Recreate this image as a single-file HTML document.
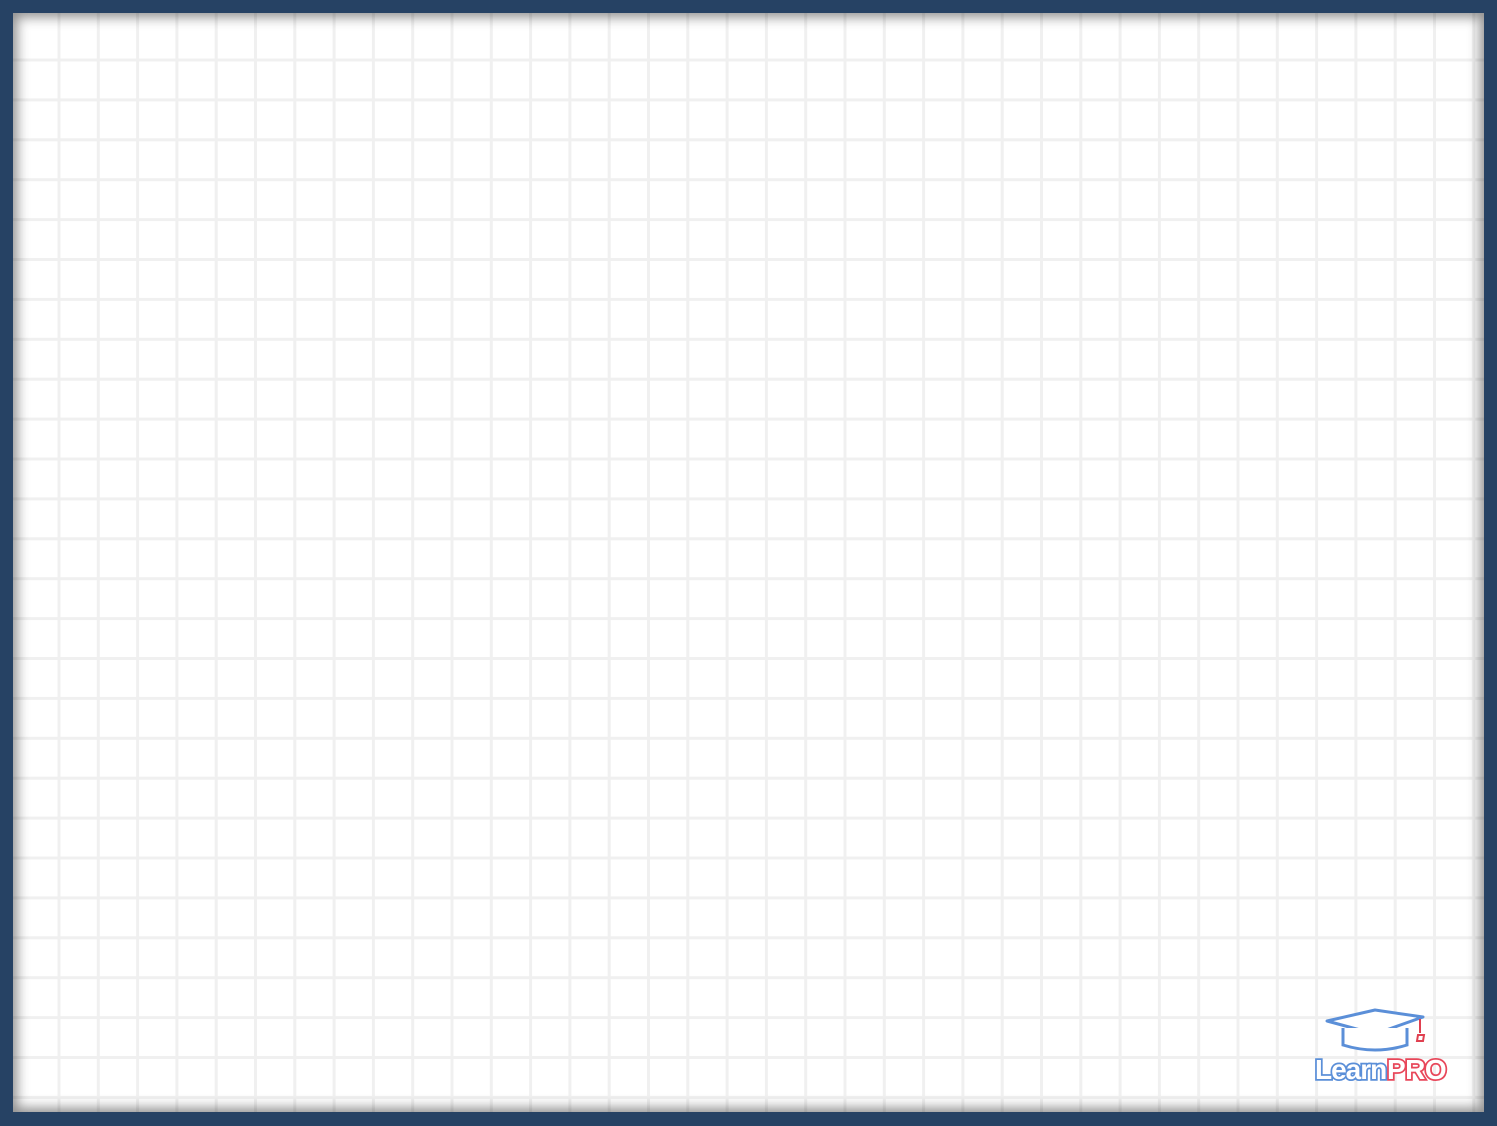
<!DOCTYPE html>
<html><head><meta charset="utf-8"><style>
html,body{margin:0;padding:0;}
body{width:1497px;height:1126px;background:#264264;position:relative;overflow:hidden;font-family:"Liberation Sans",sans-serif;}
#board{position:absolute;left:13px;top:13px;width:1471px;height:1099px;background-color:#fff;}
#grid{position:absolute;left:0;top:0;}
#shadow{position:absolute;left:13px;top:13px;width:1471px;height:1099px;box-shadow:inset 0 0 12px 4px rgba(0,0,0,0.45);pointer-events:none;}
</style></head><body>
<div id="board">
<svg id="grid" width="1471" height="1099"></svg>
</div>
<div id="shadow"></div>
<svg style="position:absolute;left:1310px;top:1005px" width="150" height="80">
 <path d="M17 16 L65 5 L113 12 L65 29 Z" fill="#fff" stroke="#5b8fd8" stroke-width="3" stroke-linejoin="round"/>
 <path d="M33 23 L33 40 Q65 50 97 40 L97 23" fill="#fff" stroke="#5b8fd8" stroke-width="3"/>
 <path d="M110 14 L110 28 M108 30 L114 30 L113 36 L107 36 Z" stroke="#e04050" stroke-width="2" fill="#fff"/>
 <text x="5" y="74" font-family="Liberation Sans, sans-serif" font-weight="bold" font-size="28" fill="#fff" stroke="#5b8fd8" stroke-width="3.5" paint-order="stroke" letter-spacing="-1">Learn</text>
 <text x="77" y="74" font-family="Liberation Sans, sans-serif" font-weight="bold" font-size="28" fill="#fff" stroke="#e8475a" stroke-width="3.5" paint-order="stroke" letter-spacing="-0.5">PRO</text>
</svg>
<script>
const svg=document.getElementById('grid');
const ns='http://www.w3.org/2000/svg';
for(let x=46;x<1471;x+=39.3){
 const l=document.createElementNS(ns,'rect');
 l.setAttribute('x',x-1.5);l.setAttribute('y',0);l.setAttribute('width',3);l.setAttribute('height',1099);l.setAttribute('fill','#f0f0f0');
 
 
 svg.appendChild(l);
}
for(let y=47;y<1099;y+=39.9){
 const l=document.createElementNS(ns,'rect');
 l.setAttribute('x',0);l.setAttribute('y',y-1.5);l.setAttribute('width',1471);l.setAttribute('height',3);l.setAttribute('fill','#f0f0f0');
 
 
 svg.appendChild(l);
}
</script>
</body></html>
